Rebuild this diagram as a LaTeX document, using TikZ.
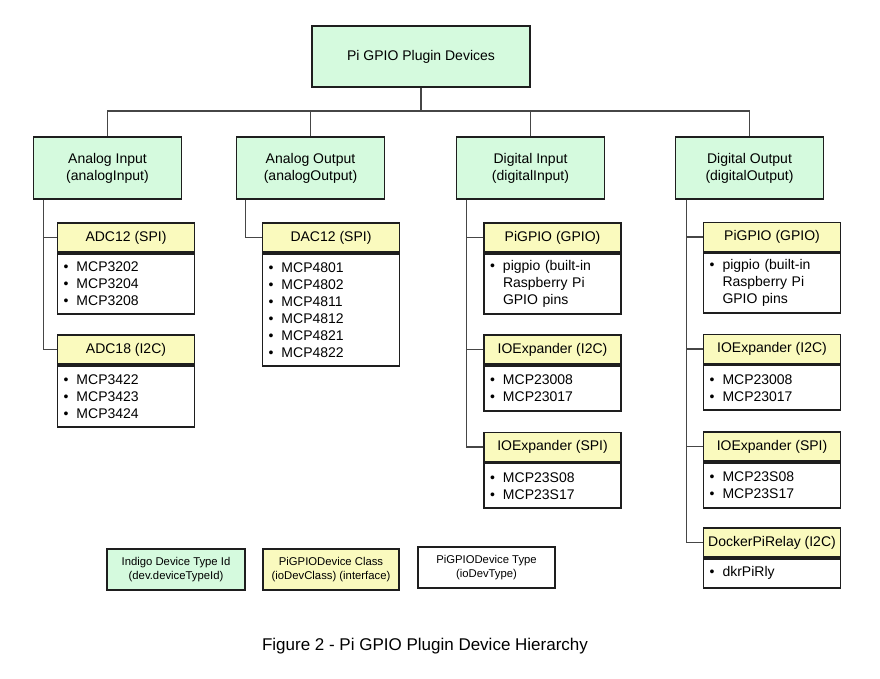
\documentclass[tikz,border=0pt]{standalone}
\usepackage{fontspec}
\setmainfont{Liberation Sans}
\usetikzlibrary{positioning}

\definecolor{typegreen}{RGB}{213,250,222}
\definecolor{classyellow}{RGB}{250,250,190}
\definecolor{boxline}{RGB}{30,30,30}
\definecolor{linkgray}{RGB}{70,70,70}
\newcommand{\bul}{\makebox[13pt][l]{\textbullet}}
\newcommand{\hang}{\hspace*{13pt}}

\begin{document}
\begin{tikzpicture}[
        x=1pt, y=-1pt,
        typeid/.style={rectangle, draw=boxline, line width=1.8pt, fill=typegreen, minimum width=148pt, minimum height=62pt, align=center, font=\fontsize{14}{17}\selectfont},
        devclass/.style={rectangle, draw=boxline, line width=1.8pt, fill=classyellow, minimum width=137pt, minimum height=29pt, inner sep=0pt, font=\fontsize{14}{17}\selectfont},
        devtype/.style={rectangle, draw=boxline, line width=1.8pt, fill=white, text width=125pt, inner xsep=6pt, inner ysep=0pt, align=left, font=\fontsize{14}{17}\selectfont},
        legend/.style={rectangle, draw=boxline, line width=1.8pt, minimum width=137pt, minimum height=41pt, align=center, font=\fontsize{11.3}{13.5}\selectfont},
        link/.style={draw=linkgray, line width=1.4pt}
    ]
        \useasboundingbox (0,0) rectangle (880,679);

        % device type ids
        \node[typeid, minimum width=218pt, minimum height=61pt] (devices) at (421,56.5) {Pi GPIO Plugin Devices};
        \node[typeid] (ain) at (107.5,168) {Analog Input\\(analogInput)};
        \node[typeid] (aout) at (310.5,168) {Analog Output\\(analogOutput)};
        \node[typeid] (din) at (530.5,168) {Digital Input\\(digitalInput)};
        \node[typeid] (dout) at (749.5,168) {Digital Output\\(digitalOutput)};

        % analog input
        \node[devclass] (adcspi) at (126,237.5) {ADC12 (SPI)};
        \node[devtype, minimum height=60pt, below=0pt of adcspi] (adcspilist) {\bul MCP3202\\\bul MCP3204\\\bul MCP3208};
        \node[devclass] (adcitc) at (126,349.5) {ADC18 (I2C)};
        \node[devtype, minimum height=61pt, below=0pt of adcitc] (adcitclist) {\bul MCP3422\\\bul MCP3423\\\bul MCP3424};

        % analog output
        \node[devclass] (dacspi) at (331,237.5) {DAC12 (SPI)};
        \node[devtype, minimum height=112pt, below=0pt of dacspi] (dacspilist) {\bul MCP4801\\\bul MCP4802\\\bul MCP4811\\\bul MCP4812\\\bul MCP4821\\\bul MCP4822};

        % digital input
        \node[devclass] (dingpio) at (552.5,237.5) {PiGPIO (GPIO)};
        \node[devtype, minimum height=60pt, below=0pt of dingpio] (dingpiolist) {\bul pigpio (built-in\\\hang Raspberry Pi\\\hang GPIO pins};
        \node[devclass] (dinitc) at (552.5,349.5) {IOExpander (I2C)};
        \node[devtype, minimum height=45pt, below=0pt of dinitc] (dinitclist) {\bul MCP23008\\\bul MCP23017};
        \node[devclass] (dinspi) at (552.5,447) {IOExpander (SPI)};
        \node[devtype, minimum height=45pt, below=0pt of dinspi] (dinspilist) {\bul MCP23S08\\\bul MCP23S17};

        % digital output
        \node[devclass] (doutgpio) at (772,237) {PiGPIO (GPIO)};
        \node[devtype, minimum height=60pt, below=0pt of doutgpio] (doutgpiolist) {\bul pigpio (built-in\\\hang Raspberry Pi\\\hang GPIO pins};
        \node[devclass] (doutitc) at (772,349) {IOExpander (I2C)};
        \node[devtype, minimum height=45pt, below=0pt of doutitc] (doutitclist) {\bul MCP23008\\\bul MCP23017};
        \node[devclass] (doutspi) at (772,446.5) {IOExpander (SPI)};
        \node[devtype, minimum height=45pt, below=0pt of doutspi] (doutspilist) {\bul MCP23S08\\\bul MCP23S17};
        \node[devclass] (doutrelay) at (772,542.5) {DockerPiRelay (I2C)};
        \node[devtype, minimum height=29pt, below=0pt of doutrelay] (doutrelaylist) {\bul dkrPiRly};

        % legend
        \node[legend, fill=typegreen, minimum width=138pt] (keyid) at (176,569.5) {Indigo Device Type Id\\(dev.deviceTypeId)};
        \node[legend, fill=classyellow, minimum width=136pt] (keyclass) at (331,569.5) {PiGPIODevice Class\\(ioDevClass) (interface)};
        \node[legend, fill=white] (keytype) at (486.5,567.5) {PiGPIODevice Type\\(ioDevType)};

        \node[font=\fontsize{17}{20}\selectfont] (caption) at (425,646) {Figure 2 - Pi GPIO Plugin Device Hierarchy};

        % tree lines
        \coordinate (split) at (421,111);
        \draw[link] (devices) -- (split);
        \draw[link] (split) -| (ain);
        \draw[link] (split) -| (aout);
        \draw[link] (split) -| (din);
        \draw[link] (split) -| (dout);

        \draw[link] ([xshift=11pt]ain.south west) |- (adcspi.west);
        \draw[link] ([xshift=11pt]ain.south west) |- (adcitc.west);
        \draw[link] ([xshift=10pt]aout.south west) |- (dacspi.west);
        \draw[link] ([xshift=11pt]din.south west) |- (dingpio.west);
        \draw[link] ([xshift=11pt]din.south west) |- (dinitc.west);
        \draw[link] ([xshift=11pt]din.south west) |- (dinspi.west);
        \draw[link] ([xshift=12pt]dout.south west) |- (doutgpio.west);
        \draw[link] ([xshift=12pt]dout.south west) |- (doutitc.west);
        \draw[link] ([xshift=12pt]dout.south west) |- (doutspi.west);
        \draw[link] ([xshift=12pt]dout.south west) |- (doutrelay.west);
    \end{tikzpicture}
\end{document}
